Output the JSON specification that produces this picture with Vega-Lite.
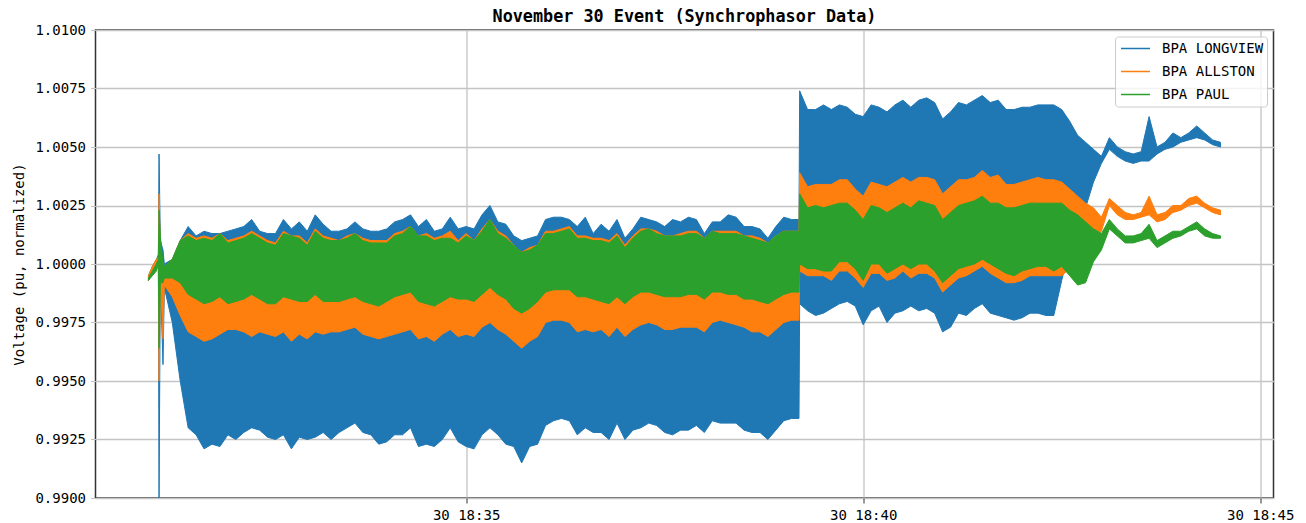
{"$schema":"https://vega.github.io/schema/vega-lite/v6.json","width":1178,"height":468,"padding":{"left":12.5,"top":8,"right":5,"bottom":5},"background":"white",
"title":{"text":"November 30 Event (Synchrophasor Data)","font":"DejaVu Sans Mono","fontSize":16.8,"fontWeight":"bold","color":"black","anchor":"middle","offset":-2.5},
"config":{"view":{"stroke":"#333","strokeWidth":1.5},"font":"DejaVu Sans Mono"},
"data":{"values":[
{"t":"2018-11-30T18:31:00Z","lv_hi":0.9995,"lv_lo":0.9993,"al_hi":0.9995,"al_lo":0.9993,"pa_hi":0.9994,"pa_lo":0.9993},
{"t":"2018-11-30T18:31:03Z","lv_hi":0.9999,"lv_lo":0.9996,"al_hi":0.9999,"al_lo":0.9996,"pa_hi":0.9997,"pa_lo":0.9995},
{"t":"2018-11-30T18:31:06Z","lv_hi":1.0002,"lv_lo":0.9999,"al_hi":1.0002,"al_lo":0.9999,"pa_hi":1.0000,"pa_lo":0.9997},
{"t":"2018-11-30T18:31:07.5Z","lv_hi":1.0004,"lv_lo":1.0000,"al_hi":1.0003,"al_lo":1.0000,"pa_hi":1.0002,"pa_lo":1.0000},
{"t":"2018-11-30T18:31:08Z","lv_hi":1.0047,"lv_lo":0.9900,"al_hi":1.0030,"al_lo":0.9950,"pa_hi":1.0023,"pa_lo":0.9964},
{"t":"2018-11-30T18:31:09Z","lv_hi":1.0010,"lv_lo":0.9994,"al_hi":1.0006,"al_lo":0.9994,"pa_hi":1.0012,"pa_lo":0.9992},
{"t":"2018-11-30T18:31:11Z","lv_hi":1.0006,"lv_lo":0.9957,"al_hi":1.0000,"al_lo":0.9968,"pa_hi":1.0000,"pa_lo":0.9992},
{"t":"2018-11-30T18:31:12Z","lv_hi":1.0000,"lv_lo":0.9990,"al_hi":0.9999,"al_lo":0.9991,"pa_hi":0.9999,"pa_lo":0.9994},
{"t":"2018-11-30T18:31:18Z","lv_hi":1.0002,"lv_lo":0.9975,"al_hi":1.0002,"al_lo":0.9986,"pa_hi":1.0002,"pa_lo":0.9994},
{"t":"2018-11-30T18:31:24Z","lv_hi":1.0010,"lv_lo":0.9950,"al_hi":1.0010,"al_lo":0.9978,"pa_hi":1.0010,"pa_lo":0.9992},
{"t":"2018-11-30T18:31:30Z","lv_hi":1.0016,"lv_lo":0.9930,"al_hi":1.0013,"al_lo":0.9971,"pa_hi":1.0012,"pa_lo":0.9987},
{"t":"2018-11-30T18:31:36Z","lv_hi":1.0012,"lv_lo":0.9927,"al_hi":1.0011,"al_lo":0.9969,"pa_hi":1.0010,"pa_lo":0.9985},
{"t":"2018-11-30T18:31:42Z","lv_hi":1.0014,"lv_lo":0.9921,"al_hi":1.0012,"al_lo":0.9967,"pa_hi":1.0011,"pa_lo":0.9983},
{"t":"2018-11-30T18:31:48Z","lv_hi":1.0013,"lv_lo":0.9923,"al_hi":1.0011,"al_lo":0.9968,"pa_hi":1.0010,"pa_lo":0.9984},
{"t":"2018-11-30T18:31:54Z","lv_hi":1.0013,"lv_lo":0.9922,"al_hi":1.0013,"al_lo":0.9970,"pa_hi":1.0013,"pa_lo":0.9986},
{"t":"2018-11-30T18:32:00Z","lv_hi":1.0014,"lv_lo":0.9927,"al_hi":1.0010,"al_lo":0.9972,"pa_hi":1.0009,"pa_lo":0.9983},
{"t":"2018-11-30T18:32:06Z","lv_hi":1.0015,"lv_lo":0.9925,"al_hi":1.0011,"al_lo":0.9972,"pa_hi":1.0010,"pa_lo":0.9984},
{"t":"2018-11-30T18:32:12Z","lv_hi":1.0016,"lv_lo":0.9928,"al_hi":1.0012,"al_lo":0.9971,"pa_hi":1.0011,"pa_lo":0.9985},
{"t":"2018-11-30T18:32:18Z","lv_hi":1.0019,"lv_lo":0.9930,"al_hi":1.0014,"al_lo":0.9969,"pa_hi":1.0013,"pa_lo":0.9987},
{"t":"2018-11-30T18:32:24Z","lv_hi":1.0014,"lv_lo":0.9929,"al_hi":1.0012,"al_lo":0.9971,"pa_hi":1.0011,"pa_lo":0.9985},
{"t":"2018-11-30T18:32:30Z","lv_hi":1.0013,"lv_lo":0.9926,"al_hi":1.0010,"al_lo":0.9970,"pa_hi":1.0009,"pa_lo":0.9983},
{"t":"2018-11-30T18:32:36Z","lv_hi":1.0013,"lv_lo":0.9925,"al_hi":1.0009,"al_lo":0.9969,"pa_hi":1.0008,"pa_lo":0.9983},
{"t":"2018-11-30T18:32:42Z","lv_hi":1.0019,"lv_lo":0.9927,"al_hi":1.0014,"al_lo":0.9971,"pa_hi":1.0013,"pa_lo":0.9986},
{"t":"2018-11-30T18:32:48Z","lv_hi":1.0015,"lv_lo":0.9921,"al_hi":1.0012,"al_lo":0.9967,"pa_hi":1.0012,"pa_lo":0.9985},
{"t":"2018-11-30T18:32:54Z","lv_hi":1.0018,"lv_lo":0.9926,"al_hi":1.0012,"al_lo":0.9970,"pa_hi":1.0011,"pa_lo":0.9984},
{"t":"2018-11-30T18:33:00Z","lv_hi":1.0014,"lv_lo":0.9925,"al_hi":1.0009,"al_lo":0.9968,"pa_hi":1.0008,"pa_lo":0.9984},
{"t":"2018-11-30T18:33:06Z","lv_hi":1.0021,"lv_lo":0.9926,"al_hi":1.0015,"al_lo":0.9971,"pa_hi":1.0014,"pa_lo":0.9987},
{"t":"2018-11-30T18:33:12Z","lv_hi":1.0017,"lv_lo":0.9928,"al_hi":1.0012,"al_lo":0.9970,"pa_hi":1.0011,"pa_lo":0.9984},
{"t":"2018-11-30T18:33:18Z","lv_hi":1.0014,"lv_lo":0.9925,"al_hi":1.0011,"al_lo":0.9971,"pa_hi":1.0010,"pa_lo":0.9984},
{"t":"2018-11-30T18:33:24Z","lv_hi":1.0014,"lv_lo":0.9928,"al_hi":1.0010,"al_lo":0.9971,"pa_hi":1.0010,"pa_lo":0.9984},
{"t":"2018-11-30T18:33:30Z","lv_hi":1.0015,"lv_lo":0.9930,"al_hi":1.0012,"al_lo":0.9972,"pa_hi":1.0011,"pa_lo":0.9985},
{"t":"2018-11-30T18:33:36Z","lv_hi":1.0018,"lv_lo":0.9932,"al_hi":1.0013,"al_lo":0.9973,"pa_hi":1.0013,"pa_lo":0.9986},
{"t":"2018-11-30T18:33:42Z","lv_hi":1.0015,"lv_lo":0.9928,"al_hi":1.0011,"al_lo":0.9970,"pa_hi":1.0010,"pa_lo":0.9984},
{"t":"2018-11-30T18:33:48Z","lv_hi":1.0014,"lv_lo":0.9927,"al_hi":1.0010,"al_lo":0.9969,"pa_hi":1.0009,"pa_lo":0.9983},
{"t":"2018-11-30T18:33:54Z","lv_hi":1.0014,"lv_lo":0.9923,"al_hi":1.0010,"al_lo":0.9968,"pa_hi":1.0009,"pa_lo":0.9982},
{"t":"2018-11-30T18:34:00Z","lv_hi":1.0015,"lv_lo":0.9924,"al_hi":1.0010,"al_lo":0.9969,"pa_hi":1.0009,"pa_lo":0.9984},
{"t":"2018-11-30T18:34:06Z","lv_hi":1.0018,"lv_lo":0.9927,"al_hi":1.0013,"al_lo":0.9970,"pa_hi":1.0012,"pa_lo":0.9986},
{"t":"2018-11-30T18:34:12Z","lv_hi":1.0019,"lv_lo":0.9927,"al_hi":1.0014,"al_lo":0.9971,"pa_hi":1.0013,"pa_lo":0.9987},
{"t":"2018-11-30T18:34:18Z","lv_hi":1.0021,"lv_lo":0.9930,"al_hi":1.0016,"al_lo":0.9972,"pa_hi":1.0016,"pa_lo":0.9988},
{"t":"2018-11-30T18:34:24Z","lv_hi":1.0016,"lv_lo":0.9922,"al_hi":1.0012,"al_lo":0.9968,"pa_hi":1.0012,"pa_lo":0.9984},
{"t":"2018-11-30T18:34:30Z","lv_hi":1.0019,"lv_lo":0.9923,"al_hi":1.0013,"al_lo":0.9969,"pa_hi":1.0012,"pa_lo":0.9983},
{"t":"2018-11-30T18:34:36Z","lv_hi":1.0014,"lv_lo":0.9922,"al_hi":1.0011,"al_lo":0.9967,"pa_hi":1.0010,"pa_lo":0.9982},
{"t":"2018-11-30T18:34:42Z","lv_hi":1.0015,"lv_lo":0.9925,"al_hi":1.0012,"al_lo":0.9970,"pa_hi":1.0011,"pa_lo":0.9984},
{"t":"2018-11-30T18:34:48Z","lv_hi":1.0020,"lv_lo":0.9930,"al_hi":1.0014,"al_lo":0.9972,"pa_hi":1.0011,"pa_lo":0.9986},
{"t":"2018-11-30T18:34:54Z","lv_hi":1.0015,"lv_lo":0.9924,"al_hi":1.0010,"al_lo":0.9969,"pa_hi":1.0009,"pa_lo":0.9985},
{"t":"2018-11-30T18:35:00Z","lv_hi":1.0016,"lv_lo":0.9922,"al_hi":1.0013,"al_lo":0.9970,"pa_hi":1.0012,"pa_lo":0.9985},
{"t":"2018-11-30T18:35:06Z","lv_hi":1.0015,"lv_lo":0.9921,"al_hi":1.0010,"al_lo":0.9969,"pa_hi":1.0010,"pa_lo":0.9984},
{"t":"2018-11-30T18:35:12Z","lv_hi":1.0021,"lv_lo":0.9927,"al_hi":1.0015,"al_lo":0.9973,"pa_hi":1.0014,"pa_lo":0.9987},
{"t":"2018-11-30T18:35:18Z","lv_hi":1.0025,"lv_lo":0.9930,"al_hi":1.0019,"al_lo":0.9975,"pa_hi":1.0019,"pa_lo":0.9990},
{"t":"2018-11-30T18:35:24Z","lv_hi":1.0018,"lv_lo":0.9927,"al_hi":1.0014,"al_lo":0.9972,"pa_hi":1.0013,"pa_lo":0.9987},
{"t":"2018-11-30T18:35:30Z","lv_hi":1.0017,"lv_lo":0.9923,"al_hi":1.0012,"al_lo":0.9970,"pa_hi":1.0011,"pa_lo":0.9985},
{"t":"2018-11-30T18:35:36Z","lv_hi":1.0012,"lv_lo":0.9922,"al_hi":1.0008,"al_lo":0.9967,"pa_hi":1.0008,"pa_lo":0.9981},
{"t":"2018-11-30T18:35:42Z","lv_hi":1.0010,"lv_lo":0.9915,"al_hi":1.0005,"al_lo":0.9964,"pa_hi":1.0005,"pa_lo":0.9979},
{"t":"2018-11-30T18:35:48Z","lv_hi":1.0011,"lv_lo":0.9922,"al_hi":1.0007,"al_lo":0.9967,"pa_hi":1.0006,"pa_lo":0.9981},
{"t":"2018-11-30T18:35:54Z","lv_hi":1.0012,"lv_lo":0.9923,"al_hi":1.0008,"al_lo":0.9969,"pa_hi":1.0008,"pa_lo":0.9984},
{"t":"2018-11-30T18:36:00Z","lv_hi":1.0019,"lv_lo":0.9931,"al_hi":1.0014,"al_lo":0.9975,"pa_hi":1.0013,"pa_lo":0.9988},
{"t":"2018-11-30T18:36:06Z","lv_hi":1.0020,"lv_lo":0.9933,"al_hi":1.0014,"al_lo":0.9976,"pa_hi":1.0013,"pa_lo":0.9989},
{"t":"2018-11-30T18:36:12Z","lv_hi":1.0020,"lv_lo":0.9934,"al_hi":1.0015,"al_lo":0.9976,"pa_hi":1.0014,"pa_lo":0.9989},
{"t":"2018-11-30T18:36:18Z","lv_hi":1.0019,"lv_lo":0.9933,"al_hi":1.0016,"al_lo":0.9975,"pa_hi":1.0015,"pa_lo":0.9989},
{"t":"2018-11-30T18:36:24Z","lv_hi":1.0016,"lv_lo":0.9927,"al_hi":1.0012,"al_lo":0.9971,"pa_hi":1.0011,"pa_lo":0.9986},
{"t":"2018-11-30T18:36:30Z","lv_hi":1.0020,"lv_lo":0.9930,"al_hi":1.0012,"al_lo":0.9972,"pa_hi":1.0011,"pa_lo":0.9986},
{"t":"2018-11-30T18:36:36Z","lv_hi":1.0013,"lv_lo":0.9928,"al_hi":1.0011,"al_lo":0.9971,"pa_hi":1.0010,"pa_lo":0.9985},
{"t":"2018-11-30T18:36:42Z","lv_hi":1.0017,"lv_lo":0.9928,"al_hi":1.0011,"al_lo":0.9972,"pa_hi":1.0010,"pa_lo":0.9984},
{"t":"2018-11-30T18:36:48Z","lv_hi":1.0014,"lv_lo":0.9925,"al_hi":1.0010,"al_lo":0.9969,"pa_hi":1.0009,"pa_lo":0.9983},
{"t":"2018-11-30T18:36:54Z","lv_hi":1.0019,"lv_lo":0.9932,"al_hi":1.0013,"al_lo":0.9973,"pa_hi":1.0012,"pa_lo":0.9986},
{"t":"2018-11-30T18:37:00Z","lv_hi":1.0011,"lv_lo":0.9925,"al_hi":1.0008,"al_lo":0.9969,"pa_hi":1.0007,"pa_lo":0.9983},
{"t":"2018-11-30T18:37:06Z","lv_hi":1.0015,"lv_lo":0.9929,"al_hi":1.0012,"al_lo":0.9972,"pa_hi":1.0011,"pa_lo":0.9986},
{"t":"2018-11-30T18:37:12Z","lv_hi":1.0020,"lv_lo":0.9930,"al_hi":1.0015,"al_lo":0.9974,"pa_hi":1.0014,"pa_lo":0.9988},
{"t":"2018-11-30T18:37:18Z","lv_hi":1.0019,"lv_lo":0.9932,"al_hi":1.0015,"al_lo":0.9975,"pa_hi":1.0015,"pa_lo":0.9988},
{"t":"2018-11-30T18:37:24Z","lv_hi":1.0018,"lv_lo":0.9931,"al_hi":1.0014,"al_lo":0.9974,"pa_hi":1.0013,"pa_lo":0.9987},
{"t":"2018-11-30T18:37:30Z","lv_hi":1.0016,"lv_lo":0.9928,"al_hi":1.0012,"al_lo":0.9972,"pa_hi":1.0012,"pa_lo":0.9986},
{"t":"2018-11-30T18:37:36Z","lv_hi":1.0019,"lv_lo":0.9927,"al_hi":1.0012,"al_lo":0.9972,"pa_hi":1.0012,"pa_lo":0.9986},
{"t":"2018-11-30T18:37:42Z","lv_hi":1.0018,"lv_lo":0.9929,"al_hi":1.0013,"al_lo":0.9973,"pa_hi":1.0012,"pa_lo":0.9986},
{"t":"2018-11-30T18:37:48Z","lv_hi":1.0020,"lv_lo":0.9929,"al_hi":1.0014,"al_lo":0.9973,"pa_hi":1.0013,"pa_lo":0.9987},
{"t":"2018-11-30T18:37:54Z","lv_hi":1.0019,"lv_lo":0.9931,"al_hi":1.0014,"al_lo":0.9973,"pa_hi":1.0013,"pa_lo":0.9987},
{"t":"2018-11-30T18:38:00Z","lv_hi":1.0013,"lv_lo":0.9928,"al_hi":1.0011,"al_lo":0.9971,"pa_hi":1.0011,"pa_lo":0.9985},
{"t":"2018-11-30T18:38:06Z","lv_hi":1.0018,"lv_lo":0.9933,"al_hi":1.0014,"al_lo":0.9975,"pa_hi":1.0014,"pa_lo":0.9988},
{"t":"2018-11-30T18:38:12Z","lv_hi":1.0018,"lv_lo":0.9932,"al_hi":1.0014,"al_lo":0.9976,"pa_hi":1.0013,"pa_lo":0.9988},
{"t":"2018-11-30T18:38:18Z","lv_hi":1.0021,"lv_lo":0.9932,"al_hi":1.0014,"al_lo":0.9975,"pa_hi":1.0013,"pa_lo":0.9987},
{"t":"2018-11-30T18:38:24Z","lv_hi":1.0020,"lv_lo":0.9932,"al_hi":1.0014,"al_lo":0.9974,"pa_hi":1.0013,"pa_lo":0.9987},
{"t":"2018-11-30T18:38:30Z","lv_hi":1.0016,"lv_lo":0.9929,"al_hi":1.0012,"al_lo":0.9973,"pa_hi":1.0012,"pa_lo":0.9985},
{"t":"2018-11-30T18:38:36Z","lv_hi":1.0016,"lv_lo":0.9928,"al_hi":1.0012,"al_lo":0.9971,"pa_hi":1.0011,"pa_lo":0.9985},
{"t":"2018-11-30T18:38:42Z","lv_hi":1.0015,"lv_lo":0.9928,"al_hi":1.0011,"al_lo":0.9971,"pa_hi":1.0010,"pa_lo":0.9984},
{"t":"2018-11-30T18:38:48Z","lv_hi":1.0011,"lv_lo":0.9925,"al_hi":1.0009,"al_lo":0.9969,"pa_hi":1.0009,"pa_lo":0.9983},
{"t":"2018-11-30T18:38:54Z","lv_hi":1.0016,"lv_lo":0.9929,"al_hi":1.0012,"al_lo":0.9972,"pa_hi":1.0012,"pa_lo":0.9985},
{"t":"2018-11-30T18:39:00Z","lv_hi":1.0020,"lv_lo":0.9933,"al_hi":1.0014,"al_lo":0.9975,"pa_hi":1.0014,"pa_lo":0.9987},
{"t":"2018-11-30T18:39:06Z","lv_hi":1.0019,"lv_lo":0.9934,"al_hi":1.0014,"al_lo":0.9976,"pa_hi":1.0014,"pa_lo":0.9988},
{"t":"2018-11-30T18:39:11.5Z","lv_hi":1.0019,"lv_lo":0.9934,"al_hi":1.0014,"al_lo":0.9976,"pa_hi":1.0014,"pa_lo":0.9988},
{"t":"2018-11-30T18:39:12Z","lv_hi":1.0074,"lv_lo":0.9983,"al_hi":1.0039,"al_lo":0.9997,"pa_hi":1.0030,"pa_lo":1.0000},
{"t":"2018-11-30T18:39:18Z","lv_hi":1.0066,"lv_lo":0.9980,"al_hi":1.0033,"al_lo":0.9995,"pa_hi":1.0024,"pa_lo":0.9998},
{"t":"2018-11-30T18:39:24Z","lv_hi":1.0066,"lv_lo":0.9978,"al_hi":1.0034,"al_lo":0.9995,"pa_hi":1.0025,"pa_lo":0.9998},
{"t":"2018-11-30T18:39:30Z","lv_hi":1.0068,"lv_lo":0.9979,"al_hi":1.0034,"al_lo":0.9995,"pa_hi":1.0024,"pa_lo":0.9997},
{"t":"2018-11-30T18:39:36Z","lv_hi":1.0066,"lv_lo":0.9981,"al_hi":1.0034,"al_lo":0.9993,"pa_hi":1.0025,"pa_lo":0.9997},
{"t":"2018-11-30T18:39:42Z","lv_hi":1.0068,"lv_lo":0.9983,"al_hi":1.0036,"al_lo":0.9997,"pa_hi":1.0026,"pa_lo":1.0001},
{"t":"2018-11-30T18:39:48Z","lv_hi":1.0067,"lv_lo":0.9984,"al_hi":1.0036,"al_lo":0.9997,"pa_hi":1.0026,"pa_lo":1.0001},
{"t":"2018-11-30T18:39:54Z","lv_hi":1.0064,"lv_lo":0.9982,"al_hi":1.0032,"al_lo":0.9994,"pa_hi":1.0023,"pa_lo":0.9998},
{"t":"2018-11-30T18:40:00Z","lv_hi":1.0063,"lv_lo":0.9974,"al_hi":1.0029,"al_lo":0.9990,"pa_hi":1.0019,"pa_lo":0.9993},
{"t":"2018-11-30T18:40:06Z","lv_hi":1.0068,"lv_lo":0.9980,"al_hi":1.0035,"al_lo":0.9996,"pa_hi":1.0025,"pa_lo":1.0000},
{"t":"2018-11-30T18:40:12Z","lv_hi":1.0067,"lv_lo":0.9982,"al_hi":1.0034,"al_lo":0.9996,"pa_hi":1.0024,"pa_lo":1.0000},
{"t":"2018-11-30T18:40:18Z","lv_hi":1.0065,"lv_lo":0.9975,"al_hi":1.0033,"al_lo":0.9993,"pa_hi":1.0022,"pa_lo":0.9996},
{"t":"2018-11-30T18:40:24Z","lv_hi":1.0068,"lv_lo":0.9979,"al_hi":1.0035,"al_lo":0.9994,"pa_hi":1.0024,"pa_lo":0.9998},
{"t":"2018-11-30T18:40:30Z","lv_hi":1.0070,"lv_lo":0.9980,"al_hi":1.0037,"al_lo":0.9997,"pa_hi":1.0026,"pa_lo":1.0000},
{"t":"2018-11-30T18:40:36Z","lv_hi":1.0067,"lv_lo":0.9982,"al_hi":1.0035,"al_lo":0.9994,"pa_hi":1.0024,"pa_lo":0.9998},
{"t":"2018-11-30T18:40:42Z","lv_hi":1.0070,"lv_lo":0.9980,"al_hi":1.0037,"al_lo":0.9996,"pa_hi":1.0027,"pa_lo":1.0000},
{"t":"2018-11-30T18:40:48Z","lv_hi":1.0071,"lv_lo":0.9981,"al_hi":1.0037,"al_lo":0.9996,"pa_hi":1.0026,"pa_lo":1.0000},
{"t":"2018-11-30T18:40:54Z","lv_hi":1.0069,"lv_lo":0.9979,"al_hi":1.0036,"al_lo":0.9994,"pa_hi":1.0025,"pa_lo":0.9997},
{"t":"2018-11-30T18:41:00Z","lv_hi":1.0062,"lv_lo":0.9971,"al_hi":1.0030,"al_lo":0.9988,"pa_hi":1.0019,"pa_lo":0.9992},
{"t":"2018-11-30T18:41:06Z","lv_hi":1.0065,"lv_lo":0.9973,"al_hi":1.0033,"al_lo":0.9991,"pa_hi":1.0022,"pa_lo":0.9995},
{"t":"2018-11-30T18:41:12Z","lv_hi":1.0069,"lv_lo":0.9979,"al_hi":1.0036,"al_lo":0.9994,"pa_hi":1.0025,"pa_lo":0.9998},
{"t":"2018-11-30T18:41:18Z","lv_hi":1.0068,"lv_lo":0.9978,"al_hi":1.0036,"al_lo":0.9995,"pa_hi":1.0026,"pa_lo":0.9999},
{"t":"2018-11-30T18:41:24Z","lv_hi":1.0070,"lv_lo":0.9981,"al_hi":1.0037,"al_lo":0.9997,"pa_hi":1.0027,"pa_lo":1.0000},
{"t":"2018-11-30T18:41:30Z","lv_hi":1.0072,"lv_lo":0.9983,"al_hi":1.0040,"al_lo":0.9999,"pa_hi":1.0029,"pa_lo":1.0002},
{"t":"2018-11-30T18:41:36Z","lv_hi":1.0069,"lv_lo":0.9979,"al_hi":1.0037,"al_lo":0.9996,"pa_hi":1.0026,"pa_lo":1.0000},
{"t":"2018-11-30T18:41:42Z","lv_hi":1.0070,"lv_lo":0.9978,"al_hi":1.0038,"al_lo":0.9994,"pa_hi":1.0026,"pa_lo":0.9998},
{"t":"2018-11-30T18:41:48Z","lv_hi":1.0066,"lv_lo":0.9977,"al_hi":1.0034,"al_lo":0.9992,"pa_hi":1.0024,"pa_lo":0.9996},
{"t":"2018-11-30T18:41:54Z","lv_hi":1.0066,"lv_lo":0.9976,"al_hi":1.0034,"al_lo":0.9992,"pa_hi":1.0024,"pa_lo":0.9995},
{"t":"2018-11-30T18:42:00Z","lv_hi":1.0067,"lv_lo":0.9977,"al_hi":1.0035,"al_lo":0.9993,"pa_hi":1.0025,"pa_lo":0.9997},
{"t":"2018-11-30T18:42:06Z","lv_hi":1.0067,"lv_lo":0.9979,"al_hi":1.0036,"al_lo":0.9995,"pa_hi":1.0026,"pa_lo":0.9998},
{"t":"2018-11-30T18:42:12Z","lv_hi":1.0068,"lv_lo":0.9979,"al_hi":1.0037,"al_lo":0.9995,"pa_hi":1.0026,"pa_lo":0.9999},
{"t":"2018-11-30T18:42:18Z","lv_hi":1.0068,"lv_lo":0.9978,"al_hi":1.0036,"al_lo":0.9995,"pa_hi":1.0026,"pa_lo":0.9999},
{"t":"2018-11-30T18:42:24Z","lv_hi":1.0068,"lv_lo":0.9978,"al_hi":1.0036,"al_lo":0.9995,"pa_hi":1.0026,"pa_lo":0.9997},
{"t":"2018-11-30T18:42:30Z","lv_hi":1.0066,"lv_lo":0.9993,"al_hi":1.0035,"al_lo":0.9995,"pa_hi":1.0026,"pa_lo":0.9999},
{"t":"2018-11-30T18:42:36Z","lv_hi":1.0061,"lv_lo":1.0007,"al_hi":1.0032,"al_lo":0.9998,"pa_hi":1.0023,"pa_lo":0.9995},
{"t":"2018-11-30T18:42:42Z","lv_hi":1.0055,"lv_lo":1.0014,"al_hi":1.0029,"al_lo":1.0002,"pa_hi":1.0021,"pa_lo":0.9991},
{"t":"2018-11-30T18:42:48Z","lv_hi":1.0052,"lv_lo":1.0024,"al_hi":1.0026,"al_lo":1.0006,"pa_hi":1.0018,"pa_lo":0.9992},
{"t":"2018-11-30T18:42:54Z","lv_hi":1.0049,"lv_lo":1.0035,"al_hi":1.0024,"al_lo":1.0010,"pa_hi":1.0015,"pa_lo":1.0001},
{"t":"2018-11-30T18:43:00Z","lv_hi":1.0046,"lv_lo":1.0043,"al_hi":1.0020,"al_lo":1.0014,"pa_hi":1.0013,"pa_lo":1.0006},
{"t":"2018-11-30T18:43:06Z","lv_hi":1.0054,"lv_lo":1.0049,"al_hi":1.0028,"al_lo":1.0025,"pa_hi":1.0019,"pa_lo":1.0015},
{"t":"2018-11-30T18:43:12Z","lv_hi":1.0050,"lv_lo":1.0046,"al_hi":1.0025,"al_lo":1.0021,"pa_hi":1.0015,"pa_lo":1.0012},
{"t":"2018-11-30T18:43:18Z","lv_hi":1.0048,"lv_lo":1.0044,"al_hi":1.0022,"al_lo":1.0019,"pa_hi":1.0012,"pa_lo":1.0009},
{"t":"2018-11-30T18:43:24Z","lv_hi":1.0047,"lv_lo":1.0043,"al_hi":1.0021,"al_lo":1.0019,"pa_hi":1.0012,"pa_lo":1.0009},
{"t":"2018-11-30T18:43:30Z","lv_hi":1.0048,"lv_lo":1.0044,"al_hi":1.0022,"al_lo":1.0020,"pa_hi":1.0013,"pa_lo":1.0010},
{"t":"2018-11-30T18:43:36Z","lv_hi":1.0063,"lv_lo":1.0044,"al_hi":1.0029,"al_lo":1.0021,"pa_hi":1.0017,"pa_lo":1.0011},
{"t":"2018-11-30T18:43:42Z","lv_hi":1.0050,"lv_lo":1.0047,"al_hi":1.0021,"al_lo":1.0018,"pa_hi":1.0010,"pa_lo":1.0007},
{"t":"2018-11-30T18:43:48Z","lv_hi":1.0052,"lv_lo":1.0049,"al_hi":1.0022,"al_lo":1.0019,"pa_hi":1.0012,"pa_lo":1.0009},
{"t":"2018-11-30T18:43:54Z","lv_hi":1.0056,"lv_lo":1.0050,"al_hi":1.0025,"al_lo":1.0022,"pa_hi":1.0014,"pa_lo":1.0011},
{"t":"2018-11-30T18:44:00Z","lv_hi":1.0054,"lv_lo":1.0052,"al_hi":1.0025,"al_lo":1.0023,"pa_hi":1.0014,"pa_lo":1.0012},
{"t":"2018-11-30T18:44:06Z","lv_hi":1.0056,"lv_lo":1.0053,"al_hi":1.0028,"al_lo":1.0025,"pa_hi":1.0016,"pa_lo":1.0014},
{"t":"2018-11-30T18:44:12Z","lv_hi":1.0059,"lv_lo":1.0054,"al_hi":1.0029,"al_lo":1.0026,"pa_hi":1.0018,"pa_lo":1.0015},
{"t":"2018-11-30T18:44:18Z","lv_hi":1.0056,"lv_lo":1.0053,"al_hi":1.0026,"al_lo":1.0024,"pa_hi":1.0015,"pa_lo":1.0012},
{"t":"2018-11-30T18:44:24Z","lv_hi":1.0053,"lv_lo":1.0051,"al_hi":1.0024,"al_lo":1.0022,"pa_hi":1.0013,"pa_lo":1.0011},
{"t":"2018-11-30T18:44:30Z","lv_hi":1.0052,"lv_lo":1.0050,"al_hi":1.0023,"al_lo":1.0021,"pa_hi":1.0012,"pa_lo":1.0011}
]},
"encoding":{"x":{"field":"t","type":"temporal","title":null,"scale":{"type":"utc","domain":[{"year":2018,"month":11,"date":30,"hours":18,"minutes":30,"seconds":20,"utc":true},{"year":2018,"month":11,"date":30,"hours":18,"minutes":45,"seconds":10,"utc":true}],"nice":false},
"axis":{"labelExpr":"utcFormat(datum.value,'%d %H:%M')","values":[{"year":2018,"month":11,"date":30,"hours":18,"minutes":35,"utc":true},{"year":2018,"month":11,"date":30,"hours":18,"minutes":40,"utc":true},{"year":2018,"month":11,"date":30,"hours":18,"minutes":45,"utc":true}],"grid":true,"gridColor":"#b0b0b0","gridWidth":1,"domain":false,"ticks":true,"tickSize":5,"tickColor":"#333","labelFont":"DejaVu Sans Mono","labelFontSize":14,"labelColor":"black","labelPadding":5,"labelFlush":false,"labelOverlap":false}}},
"layer":[
{"mark":{"type":"area","strokeWidth":1},"encoding":{"y":{"field":"lv_lo","type":"quantitative","title":"Voltage (pu, normalized)","scale":{"domain":[0.99,1.01],"nice":false,"zero":false},"axis":{"values":[0.99,0.9925,0.995,0.9975,1,1.0025,1.005,1.0075,1.01],"format":".4f","grid":true,"gridColor":"#c4c4c4","gridWidth":1.5,"domain":false,"ticks":true,"tickSize":5,"tickColor":"#c4c4c4","labelFont":"DejaVu Sans Mono","labelFontSize":14,"labelColor":"black","labelPadding":5,"titleFont":"DejaVu Sans Mono","titleFontSize":14,"titleFontWeight":"normal","titleColor":"black","titlePadding":8}},"y2":{"field":"lv_hi"},
"color":{"datum":"BPA LONGVIEW","type":"nominal","scale":{"domain":["BPA LONGVIEW","BPA ALLSTON","BPA PAUL"],"range":["#1f77b4","#ff7f0e","#2ca02c"]},"legend":{"title":null,"orient":"none","legendX":1019.5,"legendY":6.5,"padding":3.5,"fillColor":"rgba(255,255,255,0.8)","strokeColor":"#cccccc","cornerRadius":3,"symbolType":"stroke","symbolSize":841,"symbolOffset":1.5,"symbolStrokeWidth":1.5,"labelFont":"DejaVu Sans Mono","labelFontSize":14,"labelColor":"black","clipHeight":17,"rowPadding":6,"labelOffset":11}},
"stroke":{"datum":"BPA LONGVIEW","type":"nominal","scale":{"domain":["BPA LONGVIEW","BPA ALLSTON","BPA PAUL"],"range":["#1f77b4","#ff7f0e","#2ca02c"]},"legend":{"title":null,"orient":"none","legendX":1019.5,"legendY":6.5,"padding":3.5,"fillColor":"rgba(255,255,255,0.8)","strokeColor":"#cccccc","cornerRadius":3,"symbolType":"stroke","symbolSize":841,"symbolOffset":1.5,"symbolStrokeWidth":1.5,"labelFont":"DejaVu Sans Mono","labelFontSize":14,"labelColor":"black","clipHeight":17,"rowPadding":6,"labelOffset":11}}}},
{"mark":{"type":"area","strokeWidth":1},"encoding":{"y":{"field":"al_lo","type":"quantitative"},"y2":{"field":"al_hi"},"color":{"datum":"BPA ALLSTON","type":"nominal"},"stroke":{"datum":"BPA ALLSTON","type":"nominal"}}},
{"mark":{"type":"area","strokeWidth":1},"encoding":{"y":{"field":"pa_lo","type":"quantitative"},"y2":{"field":"pa_hi"},"color":{"datum":"BPA PAUL","type":"nominal"},"stroke":{"datum":"BPA PAUL","type":"nominal"}}}
]}
